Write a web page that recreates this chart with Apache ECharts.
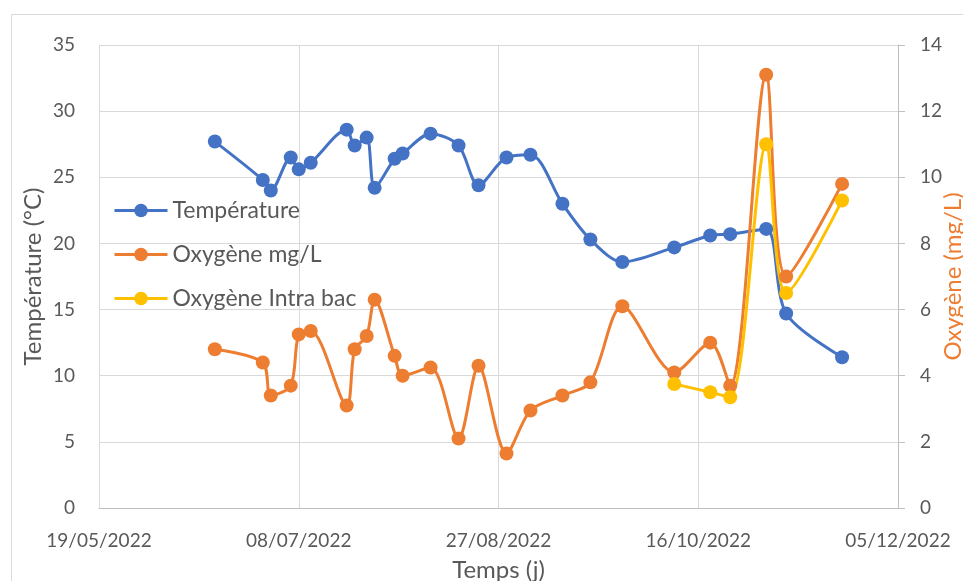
<!DOCTYPE html>
<html>
<head>
<meta charset="utf-8">
<script src="https://cdn.jsdelivr.net/npm/echarts@6/dist/echarts.min.js"></script>
<style>
  html, body { margin: 0; padding: 0; background: #fff; }
  #chart { width: 963px; height: 581px; }
</style>
</head>
<body>
<div id="chart"></div>
<script>
// dates of the samples
var dates = ['2022-06-17', '2022-06-29', '2022-07-01', '2022-07-06', '2022-07-08', '2022-07-11',
  '2022-07-20', '2022-07-22', '2022-07-25', '2022-07-27', '2022-08-01', '2022-08-03',
  '2022-08-10', '2022-08-17', '2022-08-22', '2022-08-29', '2022-09-04', '2022-09-12',
  '2022-09-19', '2022-09-27', '2022-10-10', '2022-10-19', '2022-10-24', '2022-11-02',
  '2022-11-07', '2022-11-21'];
var temperature = [27.7, 24.8, 24.0, 26.5, 25.6, 26.1, 28.6, 27.4, 28.0, 24.2, 26.4, 26.8,
  28.3, 27.4, 24.4, 26.5, 26.7, 23.0, 20.3, 18.6, 19.7, 20.6, 20.7, 21.1, 14.7, 11.4];
var oxygene = [4.8, 4.4, 3.4, 3.7, 5.25, 5.35, 3.1, 4.8, 5.2, 6.3, 4.6, 4.0,
  4.25, 2.1, 4.3, 1.65, 2.95, 3.4, 3.8, 6.1, 4.1, 5.0, 3.7, 13.1, 7.0, 9.8];
var intraDates = ['2022-10-10', '2022-10-19', '2022-10-24', '2022-11-02', '2022-11-07', '2022-11-21'];
var intraBac = [3.75, 3.5, 3.35, 11.0, 6.5, 9.3];

// axis bounds (Excel serial days)
var xMin = '2022-05-19', xMax = '2022-12-05', xStep = 50;

function serial(s) {
  var p = s.split('-');
  return (Date.UTC(+p[0], +p[1] - 1, +p[2]) - Date.UTC(1899, 11, 30)) / 86400000;
}
function fmt(v) {
  var d = new Date(Date.UTC(1899, 11, 30) + v * 86400000);
  var dd = ('0' + d.getUTCDate()).slice(-2), mm = ('0' + (d.getUTCMonth() + 1)).slice(-2);
  return dd + '/' + mm + '/' + d.getUTCFullYear();
}
function pairs(ds, vs) {
  return ds.map(function (d, i) { return [serial(d), vs[i]]; });
}

var font = 'Lato, "Open Sans", sans-serif';
var grey = '#595959';

var myChart = echarts.init(document.getElementById('chart'));
var option = {
  animation: false,
  textStyle: { fontFamily: font },
  graphic: [{
    type: 'rect', left: 9, top: 12, z: -1,
    shape: { width: 970, height: 600 },
    style: { fill: 'none', stroke: '#d9d9d9', lineWidth: 1 }
  }],
  grid: { left: 99, right: 65, top: 45, bottom: 73, containLabel: false, outerBoundsMode: 'none' },
  legend: {
    orient: 'vertical', left: 108, top: 194, padding: 5,
    itemWidth: 53, itemHeight: 17, itemGap: 21,
    lineStyle: { width: 3 },
    textStyle: { fontSize: 23, color: grey, fontFamily: font }
  },
  xAxis: {
    type: 'value',
    min: serial(xMin), max: serial(xMax), interval: xStep,
    name: 'Temps (j)', nameLocation: 'middle', nameGap: 50, nameMoveOverlap: false,
    nameTextStyle: { fontSize: 24, color: grey },
    axisLine: { show: true, lineStyle: { color: '#bfbfbf' } },
    axisTick: { show: false },
    axisLabel: { formatter: fmt, fontSize: 19, color: grey, margin: 23 },
    splitLine: { show: true, lineStyle: { color: '#d9d9d9' } }
  },
  yAxis: [{
    type: 'value', min: 0, max: 35, interval: 5,
    name: 'Température (°C)', nameLocation: 'middle', nameGap: 54, nameRotate: 90,
    nameMoveOverlap: false,
    nameTextStyle: { fontSize: 24, color: grey },
    axisLine: { show: false }, axisTick: { show: false },
    axisLabel: { fontSize: 19, color: grey, margin: 24 },
    splitLine: { lineStyle: { color: '#d9d9d9' } }
  }, {
    type: 'value', min: 0, max: 14, interval: 2, position: 'right',
    name: 'Oxygène (mg/L)', nameLocation: 'middle', nameGap: 43, nameRotate: 90,
    nameMoveOverlap: false,
    nameTextStyle: { fontSize: 24, color: '#ED7D31' },
    axisLine: { show: true, lineStyle: { color: '#bfbfbf' } },
    axisTick: { show: true, length: 7, lineStyle: { color: '#bfbfbf' } },
    axisLabel: { fontSize: 19, color: grey, margin: 22 },
    splitLine: { show: false }
  }],
  series: [{
    name: 'Température', type: 'line', yAxisIndex: 0,
    data: pairs(dates, temperature),
    smooth: 0.3, symbol: 'circle', symbolSize: 14,
    itemStyle: { color: '#4472C4' }, lineStyle: { width: 3, color: '#4472C4' }
  }, {
    name: 'Oxygène mg/L', type: 'line', yAxisIndex: 1,
    data: pairs(dates, oxygene),
    smooth: 0.3, symbol: 'circle', symbolSize: 14,
    itemStyle: { color: '#ED7D31' }, lineStyle: { width: 3, color: '#ED7D31' }
  }, {
    name: 'Oxygène Intra bac', type: 'line', yAxisIndex: 1,
    data: pairs(intraDates, intraBac),
    smooth: 0.3, symbol: 'circle', symbolSize: 14,
    itemStyle: { color: '#FFC000' }, lineStyle: { width: 3, color: '#FFC000' }
  }]
};
myChart.setOption(option);
</script>
</body>
</html>
